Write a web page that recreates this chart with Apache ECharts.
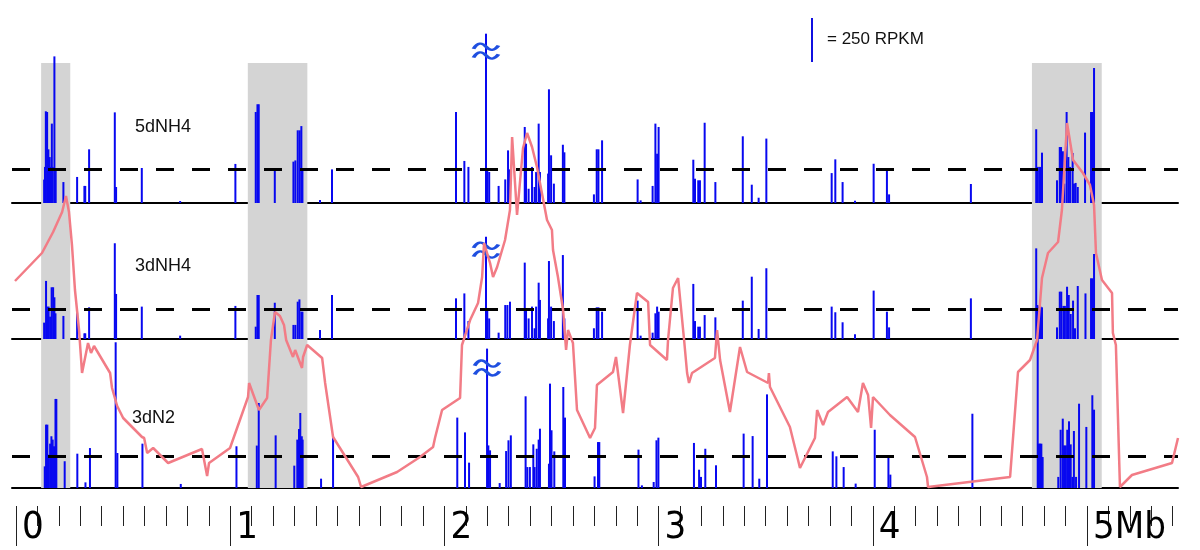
<!DOCTYPE html>
<html>
<head>
<meta charset="utf-8">
<script src="https://cdn.jsdelivr.net/npm/echarts@6/dist/echarts.min.js"></script>
<style>html,body{margin:0;background:#fff}#chart{width:1200px;height:550px}</style>
</head>
<body>
<div id="chart"></div>
<script>
// genome position in Mb, expression in RPKM
const trackNames = ['5dNH4', '3dNH4', '3dN2'];
const thresholds = [190, 170, 180];

const t1Pos = [
  0.131, 0.135, 0.139, 0.145, 0.151, 0.157, 0.162, 0.167, 0.171, 0.179,
  0.185, 0.221, 0.285, 0.319, 0.323, 0.341, 0.461, 0.467, 0.587, 0.766,
  1.024, 1.119, 1.127, 1.133, 1.208, 1.295, 1.304, 1.315, 1.324, 1.332,
  1.337, 1.419, 1.475, 2.054, 2.093, 2.112, 2.194, 2.200, 2.209, 2.253,
  2.284, 2.297, 2.306, 2.375, 2.381, 2.393, 2.409, 2.421, 2.428, 2.440,
  2.446, 2.484, 2.488, 2.498, 2.511, 2.553, 2.560, 2.698, 2.711, 2.719,
  2.736, 2.902, 2.916, 2.972, 2.985, 2.993, 3.000, 3.162, 3.170, 3.185,
  3.193, 3.215, 3.265, 3.393, 3.435, 3.467, 3.503, 3.808, 3.825, 3.859,
  3.917, 4.004, 4.066, 4.076, 4.458, 4.763, 4.769, 4.777, 4.783, 4.790,
  4.860, 4.873, 4.879, 4.887, 4.894, 4.905, 4.913, 4.921, 4.933, 4.939,
  4.947, 4.957, 4.991, 5.019, 5.027, 5.033
];
const t1Val = [
  133, 205, 521, 517, 305, 261, 205, 451, 205, 833,
  190, 119, 148, 97, 97, 305, 515, 91, 199, 11,
  222, 517, 561, 561, 186, 235, 242, 413, 413, 437,
  186, 17, 191, 517, 239, 205, 962, 186, 176, 97,
  134, 299, 191, 432, 337, 81, 205, 91, 176, 451,
  176, 167, 646, 271, 110, 331, 288, 49, 305, 305,
  356, 134, 15, 97, 451, 280, 432, 246, 138, 129,
  129, 456, 119, 379, 104, 30, 366, 170, 248, 119,
  13, 223, 182, 49, 108, 419, 205, 205, 205, 286,
  129, 318, 318, 294, 110, 517, 261, 205, 284, 110,
  114, 91, 400, 517, 517, 767
];

const t2Pos = [
  0.131, 0.140, 0.146, 0.152, 0.159, 0.166, 0.173, 0.179, 0.184, 0.221,
  0.285, 0.319, 0.323, 0.341, 0.461, 0.467, 0.587, 0.766, 1.024, 1.119,
  1.127, 1.133, 1.208, 1.295, 1.304, 1.315, 1.323, 1.332, 1.337, 1.419,
  1.475, 2.054, 2.093, 2.112, 2.194, 2.200, 2.209, 2.253, 2.284, 2.294,
  2.306, 2.375, 2.381, 2.393, 2.409, 2.421, 2.428, 2.440, 2.446, 2.484,
  2.488, 2.498, 2.511, 2.553, 2.560, 2.698, 2.711, 2.719, 2.736, 2.902,
  2.916, 2.972, 2.985, 2.993, 3.000, 3.162, 3.170, 3.185, 3.193, 3.215,
  3.265, 3.393, 3.435, 3.467, 3.503, 3.808, 3.825, 3.859, 3.917, 4.004,
  4.066, 4.076, 4.458, 4.763, 4.769, 4.777, 4.783, 4.790, 4.860, 4.873,
  4.880, 4.890, 4.897, 4.907, 4.915, 4.924, 4.935, 4.944, 4.957, 4.993,
  5.019, 5.027, 5.033
];
const t2Val = [
  93, 330, 184, 184, 127, 294, 294, 237, 146, 131,
  150, 32, 32, 180, 544, 256, 184, 19, 188, 70,
  250, 250, 206, 80, 80, 212, 225, 155, 155, 51,
  250, 231, 259, 102, 581, 165, 117, 36, 193, 193,
  212, 434, 165, 117, 184, 61, 184, 320, 222, 117,
  443, 184, 102, 477, 117, 61, 180, 180, 155, 218,
  19, 36, 146, 184, 155, 313, 102, 70, 70, 136,
  123, 218, 354, 57, 402, 184, 152, 95, 27, 275,
  155, 66, 231, 515, 193, 184, 184, 180, 66, 269,
  269, 188, 188, 297, 250, 142, 218, 61, 301, 259,
  345, 345, 483
];

const t3Pos = [
  0.134, 0.140, 0.146, 0.152, 0.159, 0.165, 0.171, 0.177, 0.184, 0.188,
  0.227, 0.286, 0.324, 0.345, 0.465, 0.473, 0.590, 0.769, 1.029, 1.124,
  1.133, 1.212, 1.299, 1.313, 1.321, 1.327, 1.334, 1.338, 1.424, 1.480,
  2.060, 2.096, 2.115, 2.199, 2.205, 2.213, 2.258, 2.288, 2.299, 2.310,
  2.379, 2.387, 2.399, 2.415, 2.421, 2.431, 2.440, 2.446, 2.488, 2.493,
  2.500, 2.513, 2.555, 2.563, 2.701, 2.717, 2.723, 2.906, 2.922, 2.977,
  2.990, 2.999, 3.165, 3.189, 3.198, 3.218, 3.268, 3.397, 3.439, 3.470,
  3.506, 3.813, 3.830, 3.864, 3.920, 4.009, 4.073, 4.082, 4.465, 4.770,
  4.775, 4.781, 4.787, 4.793, 4.866, 4.877, 4.887, 4.893, 4.901, 4.908,
  4.916, 4.924, 4.932, 4.939, 4.949, 4.963, 4.997, 5.025, 5.033
];
const t3Val = [
  123, 360, 360, 189, 252, 294, 275, 237, 506, 506,
  152, 195, 32, 227, 828, 199, 252, 23, 237, 241,
  483, 299, 127, 275, 335, 426, 294, 275, 53, 294,
  400, 316, 144, 792, 242, 214, 28, 210, 271, 299,
  521, 119, 119, 248, 119, 223, 275, 337, 138, 593,
  328, 208, 574, 400, 66, 261, 261, 218, 15, 34,
  271, 286, 256, 104, 63, 223, 129, 309, 295, 53,
  532, 208, 180, 119, 25, 331, 172, 76, 422, 852,
  252, 252, 252, 176, 63, 331, 394, 242, 242, 331,
  379, 248, 63, 324, 63, 479, 347, 527, 445
];

// truncated bars (drawn with a break mark)
const breakPos = [2.194, 2.194, 2.199];
const breakVal = [863, 505, 682];

// pink profile, relative units
const pinkPos = [
  -0.005, 0.121, 0.173, 0.215, 0.233, 0.247, 0.261, 0.275, 0.294, 0.308,
  0.336, 0.350, 0.364, 0.439, 0.448, 0.472, 0.500, 0.588, 0.598, 0.612,
  0.640, 0.710, 0.868, 0.892, 0.901, 0.999, 1.083, 1.088, 1.134, 1.172,
  1.190, 1.209, 1.232, 1.251, 1.261, 1.293, 1.303, 1.335, 1.340, 1.359,
  1.429, 1.443, 1.480, 1.597, 1.611, 1.779, 1.886, 1.947, 1.956, 1.989,
  2.073, 2.082, 2.120, 2.157, 2.176, 2.185, 2.213, 2.227, 2.246, 2.283,
  2.306, 2.316, 2.339, 2.367, 2.386, 2.409, 2.432, 2.479, 2.502, 2.507,
  2.530, 2.554, 2.568, 2.577, 2.600, 2.619, 2.680, 2.703, 2.712, 2.787,
  2.801, 2.834, 2.866, 2.899, 2.951, 2.960, 3.039, 3.044, 3.067, 3.091,
  3.119, 3.133, 3.142, 3.156, 3.263, 3.273, 3.287, 3.333, 3.380, 3.413,
  3.511, 3.515, 3.520, 3.613, 3.651, 3.660, 3.730, 3.740, 3.768, 3.791,
  3.880, 3.931, 3.954, 3.978, 3.992, 4.001, 4.080, 4.197, 4.253, 4.258,
  4.641, 4.678, 4.734, 4.767, 4.790, 4.818, 4.865, 4.883, 4.907, 4.916,
  4.935, 4.981, 5.014, 5.033, 5.042, 5.070, 5.117, 5.121, 5.135, 5.154,
  5.210, 5.397, 5.425
];
const pinkVal = [
  207, 235, 256, 276, 292, 276, 243, 198, 158, 115,
  145, 135, 142, 115, 100, 82, 70, 51, 50, 35,
  40, 25, 39, 12, 25, 40, 91, 105, 78, 90,
  148, 176, 172, 163, 148, 131, 138, 120, 131, 143,
  130, 105, 51, 11, 1, 16, 31, 41, 50, 78,
  90, 143, 168, 185, 211, 245, 225, 211, 221, 248,
  278, 351, 273, 340, 355, 341, 321, 268, 258, 238,
  211, 178, 138, 158, 145, 78, 50, 60, 103, 116,
  131, 75, 143, 195, 186, 143, 128, 148, 200, 210,
  148, 115, 105, 115, 130, 158, 128, 76, 141, 116,
  105, 115, 101, 61, 28, 20, 50, 78, 63, 76,
  91, 76, 105, 93, 60, 91, 73, 51, 11, 1,
  11, 116, 128, 148, 210, 235, 246, 278, 365, 353,
  328, 315, 303, 283, 235, 208, 195, 155, 143, 1,
  13, 25, 50
];

const grayStart = [0.117, 1.082, 4.743];
const grayEnd = [0.253, 1.360, 5.069];

const majorTicks = [0, 1, 2, 3, 4, 5];
const tickLabels = ['0', '1', '2', '3', '4', '5Mb'];
const minorTicks = [];
for (let k = 1; k <= 54; k++) {
  if (k % 10 !== 0) minorTicks.push(k / 10);
}

const XMIN = -0.019, XMAX = 5.425;
const YMAX = 1000, TRACK_H = 176;
const trackTops = [27, 163, 312];
const SCALE_RPKM = 250;

// two stacked waves, like a "≈" break mark
const breakSymbol = 'path://M0,6 C4,0 8,0 12,4 C16,8 20,8 24,3 M0,14 C4,8 8,8 12,12 C16,16 20,16 24,11';

const chart = echarts.init(document.getElementById('chart'));

const positions = [t1Pos, t2Pos, t3Pos];
const values = [t1Val, t2Val, t3Val];

const grids = trackTops.map(t => ({left: 12, right: 22, top: t, height: TRACK_H}));
grids.push({left: 12, right: 22, top: 63, height: 425});

const xAxes = trackTops.map((t, i) => ({
  type: 'value', gridIndex: i, min: XMIN, max: XMAX,
  axisLine: {show: true, lineStyle: {color: '#000', width: 2}},
  axisTick: {show: false}, axisLabel: {show: false}, splitLine: {show: false}
}));
xAxes.push({type: 'value', gridIndex: 3, min: XMIN, max: XMAX, show: false});
xAxes.push({
  type: 'value', gridIndex: 3, min: XMIN, max: XMAX, position: 'bottom', offset: 18,
  axisLine: {show: false}, splitLine: {show: false},
  axisTick: {show: true, customValues: majorTicks, length: 40, lineStyle: {color: '#222', width: 1}},
  axisLabel: {
    show: true, customValues: majorTicks, margin: 3, align: 'left', padding: [0, 0, 0, 6],
    fontSize: 38, color: '#000', verticalAlign: 'top',
    fontFamily: '"Liberation Sans Narrow", "DejaVu Sans Condensed", Arial, sans-serif',
    formatter: v => tickLabels[majorTicks.indexOf(Math.round(v))] || ''
  }
});
xAxes.push({
  type: 'value', gridIndex: 3, min: XMIN, max: XMAX, position: 'bottom', offset: 18,
  axisLine: {show: false}, splitLine: {show: false}, axisLabel: {show: false},
  axisTick: {show: true, customValues: minorTicks, length: 20, lineStyle: {color: '#222', width: 1}}
});

const yAxes = trackTops.map((t, i) => ({type: 'value', gridIndex: i, min: 0, max: YMAX, show: false}));
yAxes.push({type: 'value', gridIndex: 3, min: 0, max: 425, show: false});

const series = [];
series.push({
  type: 'line', xAxisIndex: 3, yAxisIndex: 3, data: [], z: 1, silent: true,
  markArea: {
    silent: true, itemStyle: {color: '#d4d4d4'},
    data: grayStart.map((s, j) => [{xAxis: s}, {xAxis: grayEnd[j]}])
  }
});
positions.forEach((pos, i) => {
  series.push({
    type: 'bar', name: trackNames[i], xAxisIndex: i, yAxisIndex: i, z: 3,
    barWidth: 2, itemStyle: {color: '#0808f0'},
    data: pos.map((p, j) => [p, values[i][j]]),
    markLine: {
      silent: true, symbol: 'none', label: {show: false},
      lineStyle: {color: '#000', width: 3, type: [18, 18]},
      data: [{yAxis: thresholds[i]}]
    },
    markPoint: {
      silent: true, symbol: breakSymbol, symbolSize: [25, 15], symbolRotate: 0,
      itemStyle: {color: 'rgba(0,0,0,0)', borderColor: '#1f4fe0', borderWidth: 3},
      label: {show: false},
      data: [{coord: [breakPos[i], breakVal[i]]}]
    }
  });
});
series.push({
  type: 'line', xAxisIndex: 3, yAxisIndex: 3, z: 5, silent: true,
  symbol: 'none', lineStyle: {color: '#f27c86', width: 2.5},
  data: pinkPos.map((p, j) => [p, pinkVal[j]])
});

const labelFont = '"Liberation Sans", Arial, sans-serif';
const scaleLen = SCALE_RPKM * TRACK_H / YMAX;

chart.setOption({
  animation: false,
  backgroundColor: '#fff',
  grid: grids,
  xAxis: xAxes,
  yAxis: yAxes,
  series: series,
  graphic: [
    {type: 'text', x: 135, y: 127, style: {text: trackNames[0], fontSize: 18, fontFamily: labelFont, fill: '#111', verticalAlign: 'middle'}},
    {type: 'text', x: 135, y: 266, style: {text: trackNames[1], fontSize: 18, fontFamily: labelFont, fill: '#111', verticalAlign: 'middle'}},
    {type: 'text', x: 132, y: 418, style: {text: trackNames[2], fontSize: 18, fontFamily: labelFont, fill: '#111', verticalAlign: 'middle'}},
    {type: 'line', shape: {x1: 812, y1: 62 - scaleLen, x2: 812, y2: 62}, style: {stroke: '#1010e0', lineWidth: 2}},
    {type: 'text', x: 827, y: 39, style: {text: '= ' + SCALE_RPKM + ' RPKM', fontSize: 17, fontFamily: labelFont, fill: '#111', verticalAlign: 'middle'}}
  ]
});
</script>
</body>
</html>
